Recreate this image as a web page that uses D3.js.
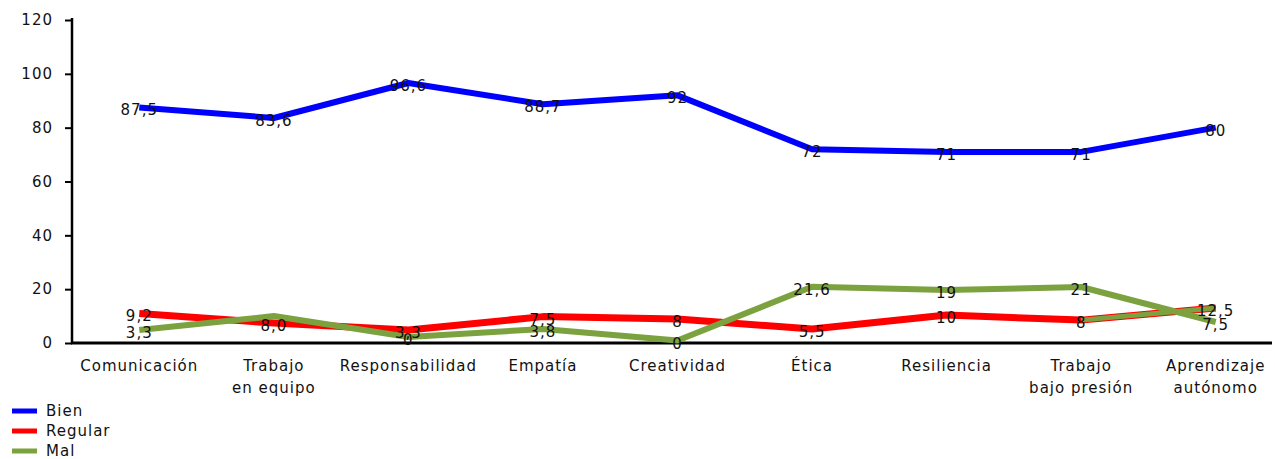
<!DOCTYPE html>
<html>
<head>
<meta charset="utf-8">
<script src="https://cdn.jsdelivr.net/npm/d3@7"></script>
<style>
  body { margin: 0; background: #fff; }
  text { font-family: "DejaVu Sans", Verdana, sans-serif; font-size: 15px; fill: #111; letter-spacing: 1px; }
</style>
</head>
<body>
<div id="chart"></div>
<script>
// categories (line breaks as in the picture)
let categories = [
  ["Comunicación"],
  ["Trabajo", "en equipo"],
  ["Responsabilidad"],
  ["Empatía"],
  ["Creatividad"],
  ["Ética"],
  ["Resiliencia"],
  ["Trabajo", "bajo presión"],
  ["Aprendizaje", "autónomo"]
];
let catKeys = categories.map(function(c) { return c.join(" "); });

// values as drawn by the lines
let bien = [87.5, 83.6, 96.6, 88.7, 92, 72, 71, 71, 80];
let regular = [11, 7.4, 4.8, 9.8, 8.9, 5.2, 10.4, 8.5, 13];
let mal = [4.8, 10, 2.2, 5.2, 0.9, 20.9, 19.7, 20.8, 7.8];

// data labels as printed
let bienLabels = ["87,5", "83,6", "96,6", "88,7", "92", "72", "71", "71", "80"];
let regularLabels = ["9,2", "8,0", "3,3", "7,5", "8", "5,5", "10", "8", "12,5"];
let malLabels = ["3,3", null, "0", "3,8", "0", "21,6", "19", "21", "7,5"];

let yTicks = [0, 20, 40, 60, 80, 100, 120];

let width = 1275;
let height = 459;

let svg = d3.select("#chart")
  .append("svg")
  .attr("width", width)
  .attr("height", height);

let xScale = d3.scalePoint()
  .domain(catKeys)
  .range([72, 1283])
  .padding(0.5);

let yScale = d3.scaleLinear()
  .domain([0, 120])
  .range([343, 20]);

// y axis
let yAxis = d3.axisLeft(yScale).tickValues(yTicks).tickSize(7).tickPadding(12);
let yG = svg.append("g")
  .attr("transform", "translate(72,0)")
  .call(yAxis);
yG.select(".domain").remove();
yG.selectAll(".tick line").attr("stroke", "#000").attr("stroke-width", 2);
yG.selectAll(".tick text")
  .attr("font-family", "DejaVu Sans")
  .attr("font-size", 15)
  .attr("fill", "#111");
svg.append("line")
  .attr("x1", 72).attr("x2", 72)
  .attr("y1", 18).attr("y2", 344)
  .attr("stroke", "#000").attr("stroke-width", 2.5);

// x axis
svg.append("line")
  .attr("x1", 71).attr("x2", 1272)
  .attr("y1", 343).attr("y2", 343)
  .attr("stroke", "#000").attr("stroke-width", 3);

let xLabels = svg.append("g");
categories.forEach(function(c, i) {
  let t = xLabels.append("text")
    .attr("text-anchor", "middle")
    .attr("x", xScale(catKeys[i]))
    .attr("y", 371);
  c.forEach(function(line, j) {
    t.append("tspan")
      .attr("x", xScale(catKeys[i]))
      .attr("dy", j === 0 ? 0 : 22)
      .text(line);
  });
});

let series = [
  { name: "Bien", values: bien, labels: bienLabels, color: "#0000ff", w: 6 },
  { name: "Regular", values: regular, labels: regularLabels, color: "#ff0000", w: 7 },
  { name: "Mal", values: mal, labels: malLabels, color: "#7ba23f", w: 6 }
];

let line = d3.line()
  .x(function(d, i) { return xScale(catKeys[i]); })
  .y(function(d) { return yScale(d); });

series.forEach(function(s) {
  svg.append("path")
    .datum(s.values)
    .attr("d", line)
    .attr("fill", "none")
    .attr("stroke", s.color)
    .attr("stroke-width", s.w)
    .attr("stroke-linejoin", "round");
});

// the picture paints the last Regular segment in green as well
let lastTwo = regular.slice(-2);
svg.append("path")
  .datum(lastTwo)
  .attr("d", d3.line()
    .x(function(d, i) { return xScale(catKeys[catKeys.length - 2 + i]); })
    .y(function(d) { return yScale(d); }))
  .attr("fill", "none")
  .attr("stroke", "#7ba23f")
  .attr("stroke-width", 5);

// data labels
series.forEach(function(s) {
  svg.append("g").selectAll("text")
    .data(s.values)
    .enter()
    .append("text")
    .attr("text-anchor", "middle")
    .attr("x", function(d, i) { return xScale(catKeys[i]); })
    .attr("y", function(d) { return yScale(d) + 8; })
    .text(function(d, i) { return s.labels[i] === null ? "" : s.labels[i]; });
});

// legend
let legend = svg.append("g").attr("transform", "translate(12,411)");
series.forEach(function(s, i) {
  legend.append("line")
    .attr("x1", 0).attr("x2", 25)
    .attr("y1", i * 20).attr("y2", i * 20)
    .attr("stroke", s.color)
    .attr("stroke-width", 5);
  legend.append("text")
    .attr("x", 34)
    .attr("y", i * 20 + 5)
    .text(s.name);
});
</script>
</body>
</html>
